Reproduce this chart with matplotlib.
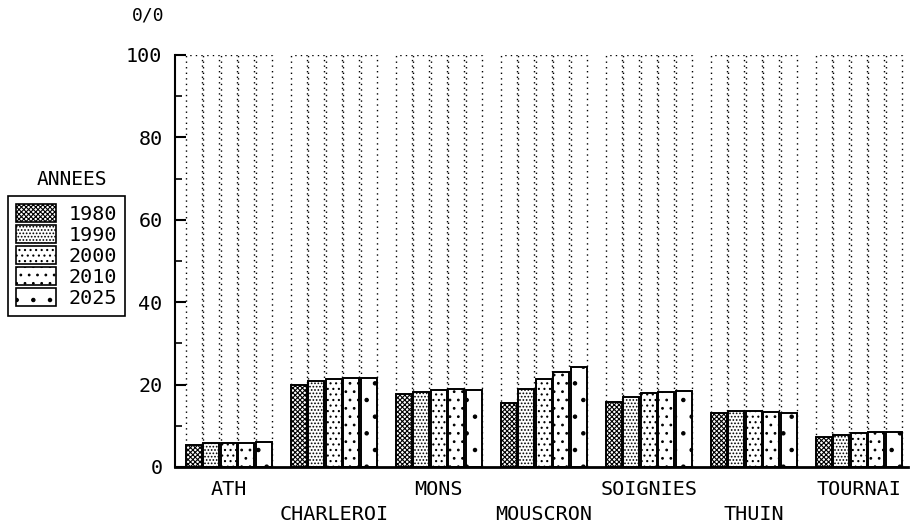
import matplotlib
matplotlib.use("Agg")
import matplotlib.pyplot as plt
from matplotlib.patches import Patch
import numpy as np

plt.rcParams['hatch.linewidth'] = 0.8

communes = ["ATH", "CHARLEROI", "MONS", "MOUSCRON", "SOIGNIES", "THUIN", "TOURNAI"]
annees = ["1980", "1990", "2000", "2010", "2025"]
v1980 = [5.3, 20.0, 17.7, 15.5, 15.8, 13.1, 7.3]
v1990 = [5.8, 20.9, 18.2, 18.9, 17.0, 13.6, 7.8]
v2000 = [5.8, 21.4, 18.7, 21.4, 18.0, 13.6, 8.3]
v2010 = [5.9, 21.6, 18.9, 23.1, 18.3, 13.4, 8.5]
v2025 = [6.0, 21.6, 18.7, 24.3, 18.4, 13.1, 8.5]
series = [v1980, v1990, v2000, v2010, v2025]
hatches = ["xxxxxxx", ".....", "...", "..", "."]
yticks = [0, 20, 40, 60, 80, 100]

FONT = "DejaVu Sans Mono"
fig = plt.figure(figsize=(9.10, 5.29), dpi=100)
ax = fig.add_axes([175/910, 62/529, 733/910, 412/529])

pitch = 1/6
w = 0.15
for j, vals in enumerate(series):
    xs = np.arange(len(communes)) + j*pitch + pitch/2
    ax.bar(xs, [100]*len(communes), width=w, fill=False, edgecolor="black",
           linestyle=(0, (1, 3)), linewidth=1.0, zorder=1)
    ax.bar(xs, vals, width=w, facecolor="white", edgecolor="black",
           hatch=hatches[j], linewidth=1.4, zorder=2)

ax.set_xlim(-0.095, 6.885)
ax.set_ylim(0, 100)
for s in ["top", "right"]:
    ax.spines[s].set_visible(False)
ax.spines["left"].set_linewidth(1.5)
ax.spines["bottom"].set_linewidth(2.0)
ax.set_xticks([])
ax.set_yticks(yticks)
ax.set_yticks(range(10, 100, 20), minor=True)
ax.tick_params(axis="y", which="major", direction="in", length=8, width=1.5,
               pad=9, labelsize=14.5)
ax.tick_params(axis="y", which="minor", direction="in", length=5, width=1.2)
for lab in ax.get_yticklabels():
    lab.set_fontfamily(FONT)

for i, name in enumerate(communes):
    cx = i + 2.5*pitch
    yoff = -0.055 if i % 2 == 0 else -0.115
    ax.text(cx, yoff, name, transform=ax.get_xaxis_transform(), ha="center",
            va="center", fontsize=14.5, family=FONT)

fig.text(148/910, 1 - 15/529, "0/0", ha="center", va="center", fontsize=13, family=FONT)
fig.text(72/910, 1 - 180/529, "ANNEES", ha="center", va="center", fontsize=14, family=FONT)

handles = [Patch(facecolor="white", edgecolor="black", hatch=h, linewidth=1.2) for h in hatches]
leg = fig.legend(handles, annees, loc="upper left", bbox_to_anchor=(8/910, 1 - 196/529),
                 frameon=True, fancybox=False, edgecolor="black", framealpha=1,
                 prop={"family": FONT, "size": 14.5}, handlelength=2.0, handleheight=1.0,
                 labelspacing=0.05, borderpad=0.4, handletextpad=0.6, borderaxespad=0)
leg.get_frame().set_linewidth(1.2)

fig.savefig("out.png", dpi=100)
